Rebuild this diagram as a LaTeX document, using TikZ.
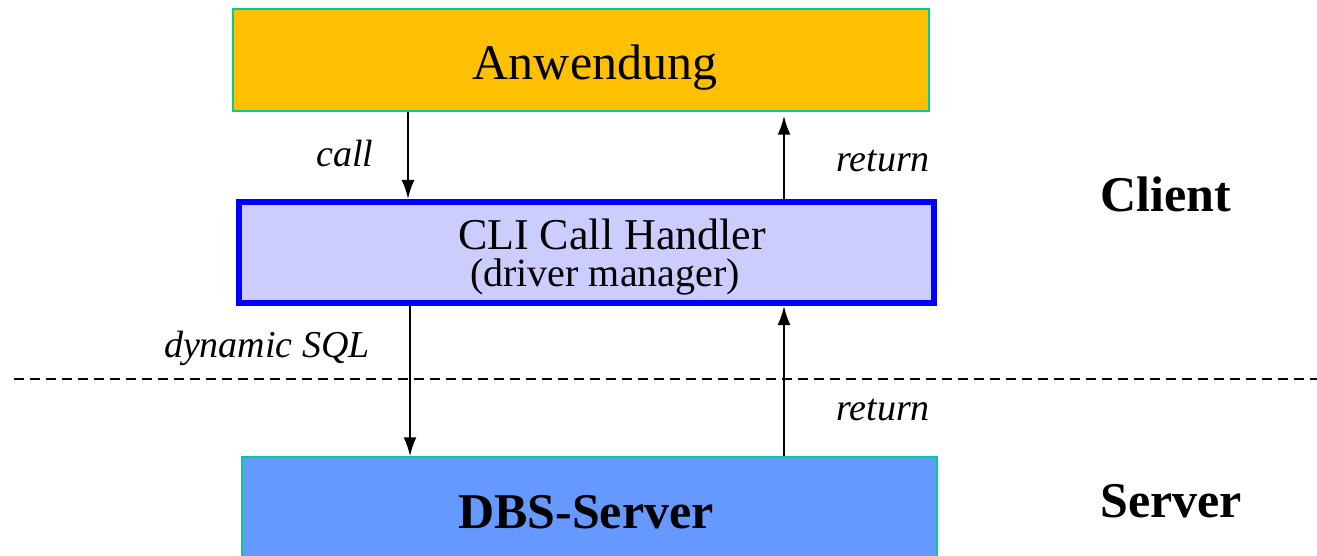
\documentclass[tikz,border=0pt]{standalone}
\usepackage{fontspec}
\setmainfont{Liberation Serif}
\usetikzlibrary{arrows.meta}

\definecolor{anwOrange}{RGB}{254,192,0}
\definecolor{cliFill}{RGB}{204,204,255}
\definecolor{dbsFill}{RGB}{102,153,255}
\definecolor{boxTeal}{RGB}{0,204,153}

\tikzset{
  layer box/.style={draw=boxTeal, line width=1.5pt, minimum width=696pt, minimum height=102pt, inner sep=0pt},
  flow/.style={line width=2.2pt, -{Latex[length=19pt,width=13pt]}},
  flow label/.style={font=\fontsize{38}{40}\selectfont\itshape, anchor=base, inner sep=0pt},
  side label/.style={font=\fontsize{50}{52}\selectfont\bfseries, anchor=base, inner sep=0pt},
}

\begin{document}
\begin{tikzpicture}[x=1pt,y=-1pt]
\useasboundingbox (0,0) rectangle (1317,556);

% the three layers
\node[layer box, fill=anwOrange] (anw) at (581,60) {};
\node[anchor=base, font=\fontsize{50}{52}\selectfont] (anwtext) at (595,80) {Anwendung};

\node[draw=blue, fill=cliFill, line width=6pt, minimum width=695pt, minimum height=101pt, inner sep=0pt] (cli) at (586.5,252.5) {};
\node[anchor=base, font=\fontsize{44}{46}\selectfont, inner sep=0pt] (clitext) at (612,249) {CLI Call Handler};
\node[anchor=base, font=\fontsize{40}{42}\selectfont, inner sep=0pt] (clisub) at (605,286) {(driver manager)};

\begin{scope}
\clip (0,0) rectangle (1317,556);
\node[layer box, fill=dbsFill, minimum width=695pt, minimum height=115pt] (dbs) at (589.5,514.5) {};
\end{scope}
\node[anchor=base, font=\fontsize{50}{52}\selectfont\bfseries, inner sep=0pt] (dbstext) at (586,528) {DBS-Server};

% client / server border
\coordinate (cutL) at (14,379);
\coordinate (cutR) at (1317,379);
\draw[line width=2.6pt, dash pattern=on 10pt off 6pt] (cutL) -- (cutR);

% calls and returns
\draw[flow] (anw.south -| 408,0) -- (cli.north -| 408,0);
\draw[flow, shorten >=4pt] (cli.north -| 784,0) -- (anw.south -| 784,0);
\draw[flow] (cli.south -| 410,0) -- (dbs.north -| 410,0);
\draw[flow] (dbs.north -| 784,0) -- (cli.south -| 784,0);

% labels
\node[flow label] (lcall) at (345,167) {call};
\node[flow label] (lret1) at (883,172) {return};
\node[flow label] (lsql) at (267,357) {dynamic SQL};
\node[flow label] (lret2) at (883,420) {return};
\node[side label] (lclient) at (1166,212) {Client};
\node[side label] (lserver) at (1171,517) {Server};
\end{tikzpicture}
\end{document}
